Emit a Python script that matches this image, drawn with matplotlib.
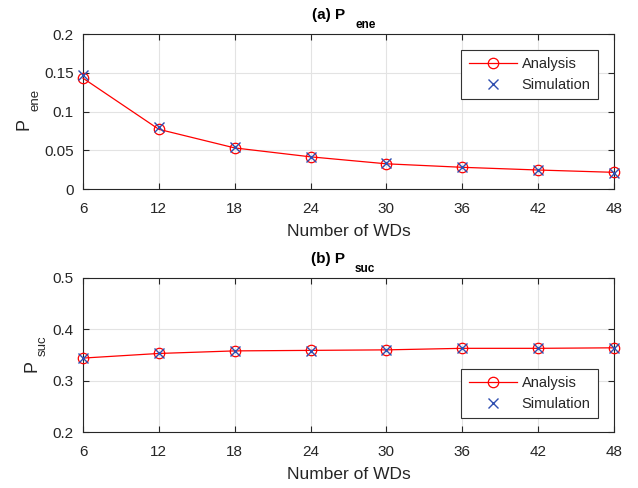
import matplotlib.pyplot as plt
import numpy as np

plt.rcParams['font.family'] = ['Liberation Sans', 'DejaVu Sans']

num_wds = [6, 12, 18, 24, 30, 36, 42, 48]
pene_analysis = [0.143, 0.077, 0.053, 0.0415, 0.0325, 0.028, 0.0245, 0.0215]
pene_simulation = [0.147, 0.080, 0.054, 0.041, 0.033, 0.028, 0.024, 0.021]
psuc_analysis = [0.344, 0.353, 0.358, 0.359, 0.360, 0.363, 0.363, 0.364]
psuc_simulation = [0.344, 0.353, 0.358, 0.358, 0.360, 0.363, 0.363, 0.364]

text_c = '#262626'
red = '#ff0000'
blue = '#2f4fb0'

W, H = 638, 488
fig = plt.figure(figsize=(W / 100, H / 100), dpi=100)
ax1 = fig.add_axes([83 / W, 1 - 189 / H, 531 / W, 155 / H])
ax2 = fig.add_axes([83 / W, 1 - 432 / H, 531 / W, 154 / H])


def px_text(ax, s, xy, off, **kw):
    # text placed at a pixel offset from a point given in axes fraction
    ax.annotate(s, xy=xy, xycoords='axes fraction', xytext=off,
                textcoords='offset pixels', annotation_clip=False, **kw)


def panel(ax, ana, sim, ylim, yticks, yticklabels, sub, tag, ylab_off, leg_top):
    ax.plot(num_wds, ana, color=red, lw=0.9, marker='o', ms=7.5,
            mfc='none', mec=red, mew=0.9, label='Analysis', zorder=3,
            clip_on=False)
    ax.plot(num_wds, sim, ls='none', marker='x', ms=6.5,
            color=blue, mew=1.0, label='Simulation', zorder=4, clip_on=False)
    ax.set_xlim(6, 48)
    ax.set_ylim(*ylim)
    ax.set_xticks(num_wds)
    ax.set_yticks(yticks)
    ax.set_yticklabels(yticklabels)
    ax.grid(True, color='#e3e3e3', lw=0.8)
    ax.set_axisbelow(True)
    ax.tick_params(direction='in', top=True, right=True, length=4.5,
                   width=0.8, labelsize=11, colors=text_c)
    ax.tick_params(axis='x', pad=9)
    ax.tick_params(axis='y', pad=6.5)
    for s in ax.spines.values():
        s.set_color(text_c)
        s.set_linewidth(0.8)

    ax.set_xlabel('Number of WDs', fontsize=12.5, color=text_c, va='baseline')
    ax.xaxis.set_label_coords(0.5, -47 / 155)

    # y label: P with a subscript, MATLAB style
    (px, py), (sx, sy) = ylab_off
    px_text(ax, 'P', (0, 0.5), (px, py), fontsize=13, color=text_c, rotation=90,
            rotation_mode='anchor', ha='left', va='baseline')
    px_text(ax, sub, (0, 0.5), (sx, sy), fontsize=9.5, color=text_c, rotation=90,
            rotation_mode='anchor', ha='left', va='baseline')

    # title: (a) P with a bold subscript
    px_text(ax, tag + ' P', (0.5, 1), (-3.5, 15.5), fontsize=11, fontweight='bold',
            color='black', ha='right', va='baseline')
    px_text(ax, sub, (0.5, 1), (6.5, 6.5), fontsize=8.5, fontweight='bold',
            color='black', ha='left', va='baseline')

    leg = ax.legend(loc='upper right', bbox_to_anchor=(598 / W, 1 - leg_top / H),
                    bbox_transform=fig.transFigure, borderaxespad=0,
                    fontsize=10.5, frameon=True, fancybox=False, framealpha=1,
                    edgecolor='#333333', handlelength=3.3, borderpad=0.5,
                    labelspacing=0.45, handletextpad=0.35)
    leg.get_frame().set_linewidth(0.8)
    for t in leg.get_texts():
        t.set_color(text_c)


panel(ax1, pene_analysis, pene_simulation, (0, 0.2),
      [0, 0.05, 0.1, 0.15, 0.2], ['0', '0.05', '0.1', '0.15', '0.2'],
      'ene', '(a)', ((-55, -18.5), (-45, 0.5)), 50)
panel(ax2, psuc_analysis, psuc_simulation, (0.2, 0.5),
      [0.2, 0.3, 0.4, 0.5], ['0.2', '0.3', '0.4', '0.5'],
      'suc', '(b)', ((-47, -17), (-37, -1)), 369)

fig.savefig('out.png', dpi=100)
